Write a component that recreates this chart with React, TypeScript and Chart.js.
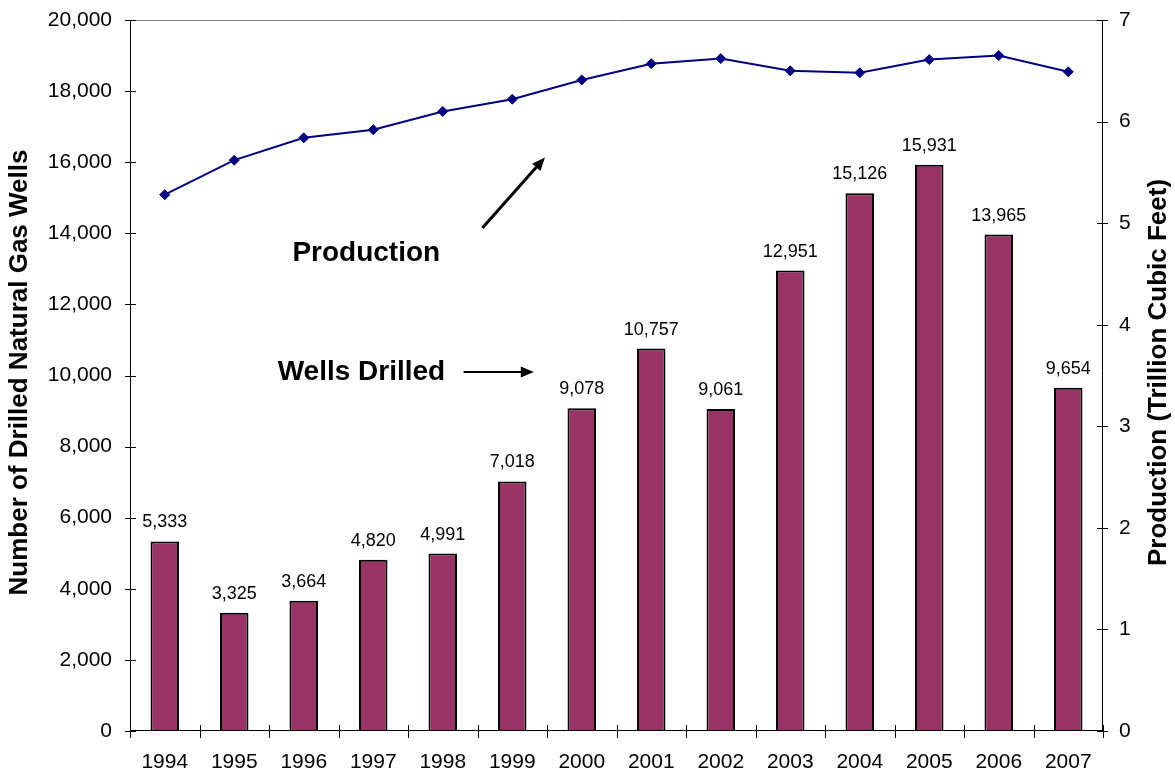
import React, { useEffect, useRef } from "react";
import { Chart, registerables } from "chart.js";

Chart.register(...registerables);

const FONT = '"Liberation Sans", Arial, sans-serif';

const years = ["1994", "1995", "1996", "1997", "1998", "1999", "2000", "2001", "2002", "2003", "2004", "2005", "2006", "2007"];
const wellsDrilled = [5333, 3325, 3664, 4820, 4991, 7018, 9078, 10757, 9061, 12951, 15126, 15931, 13965, 9654];
const production = [5.28, 5.62, 5.84, 5.92, 6.1, 6.22, 6.41, 6.57, 6.62, 6.5, 6.48, 6.61, 6.65, 6.49];

const leftAxisMax = 20000;
const leftAxisStep = 2000;
const rightAxisMax = 7;
const rightAxisStep = 1;

const leftTitle = "Number of Drilled Natural Gas Wells";
const rightTitle = "Production (Trillion Cubic Feet)";

// annotation texts placed in data units (category index, left-axis value)
const annotationTexts = [
  { text: "Production", x: 2.9, y: 13450 },
  { text: "Wells Drilled", x: 2.83, y: 10100 },
];
// arrows in data units
const annotationArrows = [
  { x1: 4.57, y1: 14150, x2: 5.47, y2: 16130, w: 3 },
  { x1: 4.3, y1: 10100, x2: 5.31, y2: 10100, w: 2 },
];

const fmt = (v: number) => v.toLocaleString("en-US");

const decorPlugin = {
  id: "decor",
  beforeDatasetsDraw(chart: any) {
    const { ctx, chartArea: a } = chart;
    ctx.save();
    ctx.strokeStyle = "#808080";
    ctx.lineWidth = 1;
    ctx.beginPath();
    ctx.moveTo(a.left, a.top + 0.5);
    ctx.lineTo(a.right, a.top + 0.5);
    ctx.stroke();
    ctx.restore();
  },
  afterDatasetsDraw(chart: any) {
    const { ctx, chartArea: a, scales } = chart;
    const xs = scales.x;
    const ys = scales.y;
    const y1 = scales.y1;
    ctx.save();
    ctx.strokeStyle = "#000";
    ctx.lineWidth = 1;
    ctx.beginPath();
    ctx.moveTo(a.left + 0.5, a.top);
    ctx.lineTo(a.left + 0.5, a.bottom);
    ctx.moveTo(a.right - 0.5, a.top);
    ctx.lineTo(a.right - 0.5, a.bottom);
    ctx.moveTo(a.left, a.bottom - 0.5);
    ctx.lineTo(a.right, a.bottom - 0.5);
    for (let v = 0; v <= leftAxisMax; v += leftAxisStep) {
      const py = Math.round(ys.getPixelForValue(v)) + 0.5;
      ctx.moveTo(a.left - 5, py);
      ctx.lineTo(a.left + 6, py);
    }
    for (let v = 0; v <= rightAxisMax; v += rightAxisStep) {
      const py = Math.round(y1.getPixelForValue(v)) + 0.5;
      ctx.moveTo(a.right - 6, py);
      ctx.lineTo(a.right + 5, py);
    }
    for (let i = 0; i <= years.length; i++) {
      const px = Math.round(xs.getPixelForValue(i - 0.5)) + 0.5;
      ctx.moveTo(px, a.bottom - 6);
      ctx.lineTo(px, a.bottom + 7);
    }
    ctx.stroke();

    // bar value labels
    const meta = chart.getDatasetMeta(0);
    ctx.fillStyle = "#000";
    ctx.font = `18px ${FONT}`;
    ctx.textAlign = "center";
    ctx.textBaseline = "middle";
    meta.data.forEach((el: any, i: number) => {
      ctx.fillText(fmt(wellsDrilled[i]), el.x, el.y - 19);
    });

    // annotation texts
    ctx.font = `bold 28px ${FONT}`;
    annotationTexts.forEach((t) => {
      ctx.fillText(t.text, xs.getPixelForValue(t.x), ys.getPixelForValue(t.y));
    });

    // arrows
    annotationArrows.forEach((ar) => {
      const x1 = xs.getPixelForValue(ar.x1);
      const yy1 = ys.getPixelForValue(ar.y1);
      const x2 = xs.getPixelForValue(ar.x2);
      const yy2 = ys.getPixelForValue(ar.y2);
      const ang = Math.atan2(yy2 - yy1, x2 - x1);
      const hl = 13;
      const hw = 5.5;
      ctx.strokeStyle = "#000";
      ctx.lineWidth = ar.w;
      ctx.beginPath();
      ctx.moveTo(x1, yy1);
      ctx.lineTo(x2 - Math.cos(ang) * (hl - 2), yy2 - Math.sin(ang) * (hl - 2));
      ctx.stroke();
      ctx.beginPath();
      ctx.moveTo(x2, yy2);
      ctx.lineTo(x2 - Math.cos(ang) * hl - Math.sin(ang) * hw, yy2 - Math.sin(ang) * hl + Math.cos(ang) * hw);
      ctx.lineTo(x2 - Math.cos(ang) * hl + Math.sin(ang) * hw, yy2 - Math.sin(ang) * hl - Math.cos(ang) * hw);
      ctx.closePath();
      ctx.fillStyle = "#000";
      ctx.fill();
    });

    // axis titles
    const cy = (a.top + a.bottom) / 2 - 3;
    ctx.font = `bold 26px ${FONT}`;
    ctx.fillStyle = "#000";
    ctx.save();
    ctx.translate(20, cy);
    ctx.rotate(-Math.PI / 2);
    ctx.fillText(leftTitle, 0, 0);
    ctx.restore();
    ctx.save();
    ctx.translate(a.right + 56, cy);
    ctx.rotate(-Math.PI / 2);
    ctx.fillText(rightTitle, 0, 0);
    ctx.restore();

    ctx.restore();
  },
};

export default function App() {
  const ref = useRef<HTMLCanvasElement>(null);
  useEffect(() => {
    if (!ref.current) return;
    const chart = new Chart(ref.current, {
      type: "bar",
      data: {
        labels: years,
        datasets: [
          {
            type: "bar",
            label: "Wells Drilled",
            data: wellsDrilled,
            backgroundColor: "#993366",
            borderColor: "#000",
            borderWidth: 2,
            barPercentage: 0.41,
            categoryPercentage: 1,
            yAxisID: "y",
            order: 2,
          },
          {
            type: "line",
            label: "Production",
            data: production,
            borderColor: "#000080",
            borderWidth: 2,
            pointStyle: "rectRot",
            pointRadius: 5,
            pointBackgroundColor: "#000080",
            pointBorderColor: "#000080",
            pointBorderWidth: 1,
            tension: 0,
            fill: false,
            yAxisID: "y1",
            order: 1,
          },
        ],
      } as any,
      options: {
        animation: false,
        responsive: false,
        maintainAspectRatio: false,
        layout: { padding: { top: 20, left: 0, right: 0, bottom: 0 } },
        plugins: { legend: { display: false }, tooltip: { enabled: false } },
        scales: {
          x: {
            grid: { display: false, drawTicks: false, offset: true },
            border: { display: false },
            ticks: { color: "#000", font: { family: FONT, size: 21 }, padding: 19, maxRotation: 0, autoSkip: false },
            afterFit: (s: any) => { s.height = 42; s.paddingLeft = 0; s.paddingRight = 0; },
          },
          y: {
            position: "left",
            min: 0,
            max: leftAxisMax,
            grid: { display: false, drawTicks: false },
            border: { display: false },
            ticks: { stepSize: leftAxisStep, color: "#000", font: { family: FONT, size: 21 }, padding: 18, callback: (v: any) => fmt(Number(v)) },
            afterFit: (s: any) => { s.width = 130; s.paddingTop = 0; s.paddingBottom = 0; },
          },
          y1: {
            position: "right",
            min: 0,
            max: rightAxisMax,
            grid: { display: false, drawTicks: false },
            border: { display: false },
            ticks: { stepSize: rightAxisStep, color: "#000", font: { family: FONT, size: 21 }, padding: 16 },
            afterFit: (s: any) => { s.width = 72; s.paddingTop = 0; s.paddingBottom = 0; },
          },
        },
      } as any,
      plugins: [decorPlugin],
    });
    return () => chart.destroy();
  }, []);
  return (
    <div style={{ position: "absolute", left: 0, top: 0, width: 1175, height: 773, background: "#fff" }}>
      <canvas ref={ref} width={1175} height={773} style={{ display: "block" }} />
    </div>
  );
}
